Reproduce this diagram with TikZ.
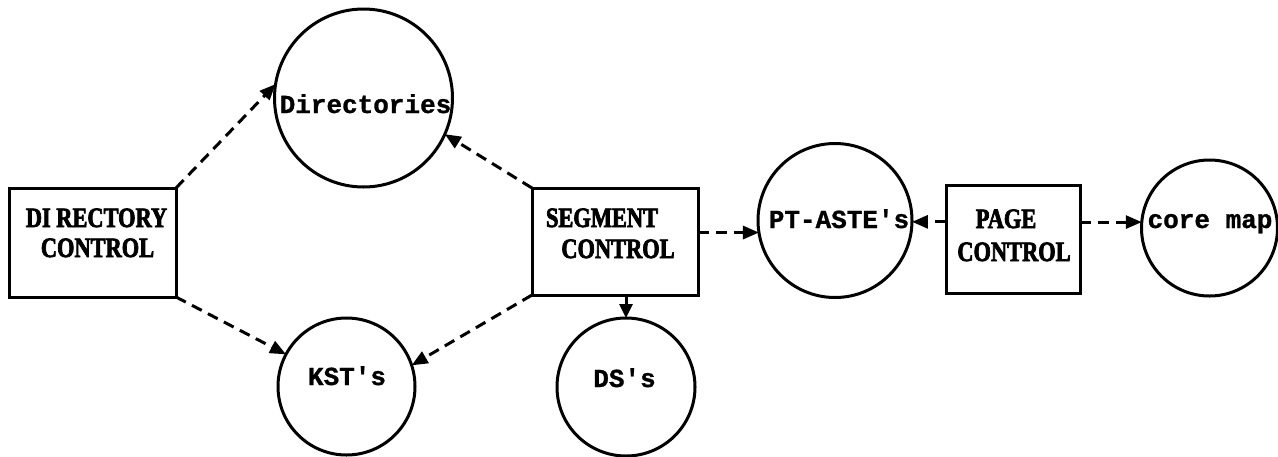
\documentclass[tikz,border=0pt]{standalone}
\usepackage{fontspec}
\usetikzlibrary{arrows.meta,calc}
\newfontfamily\boxfont{Liberation Serif Bold}[FakeStretch=0.8,FakeBold=2.5]
\newfontfamily\circfont{Liberation Mono Bold}[FakeBold=1]
\tikzset{
  ctlbox/.style={draw, line width=3pt, rectangle, inner sep=0pt, outer sep=0pt},
  store/.style={draw, line width=3pt, circle, inner sep=0pt, outer sep=0pt},
  boxtxt/.style={anchor=base, inner sep=0pt, font=\boxfont\fontsize{28}{30}\selectfont},
  circtxt/.style={anchor=base, inner sep=0pt, font=\circfont\fontsize{26}{28}\selectfont},
  flow/.style={line width=3pt, dash pattern=on 11pt off 7pt, -{Triangle[length=16pt,width=13pt]}},
  solidflow/.style={line width=3pt, -{Triangle[length=14pt,width=13pt]}}
}
\begin{document}
\begin{tikzpicture}[x=1pt,y=-1pt]
\useasboundingbox (0,0) rectangle (1278,456);
% boxes
\node[ctlbox, minimum width=167pt, minimum height=109pt] (dirctl) at (92.5,242.5) {};
\node[ctlbox, minimum width=166pt, minimum height=107pt] (segctl) at (615,241.5) {};
\node[ctlbox, minimum width=134pt, minimum height=108pt] (pagectl) at (1013,239) {};
\node[boxtxt] (dirctl1) at (96.5,227) {DI RECTORY};
\node[boxtxt] (dirctl2) at (97.5,257) {CONTROL};
\node[boxtxt] (segctl1) at (602,227) {SEGMENT};
\node[boxtxt] (segctl2) at (618,258) {CONTROL};
\node[boxtxt] (pagectl1) at (1006,228) {PAGE};
\node[boxtxt] (pagectl2) at (1014,261) {CONTROL};
% circles
\node[store, minimum size=178pt] (dirs) at (363.5,98) {};
\node[store, minimum size=137pt] (kst) at (346.5,386.5) {};
\node[store, minimum size=138pt] (ds) at (626,387) {};
\node[store, minimum size=154pt] (pt) at (835,220.5) {};
\node[store, minimum size=136pt] (core) at (1209.5,228) {};
\node[circtxt] (dirst) at (365.5,113) {Directories};
\node[circtxt] (kstt) at (347,385) {KST's};
\node[circtxt] (dst) at (624.5,387) {DS's};
\node[circtxt] (ptt) at (839,228) {PT-ASTE's};
\node[circtxt] (coret) at (1210,228) {core map};
% connectors
\draw[flow] (dirctl.north east) -- (dirs.171);
\draw[flow] (dirctl.south east) -- (kst.152);
\draw[flow] (segctl.north west) -- (dirs.336);
\draw[flow] (segctl.south west) -- (kst.18);
\draw[flow] (segctl.east |- pt.189) -- (pt.189);
\draw[solidflow] (ds.north |- segctl.south) -- (ds.north);
\draw[flow] (pagectl.west |- pt.359) -- (pt.359);
\draw[flow] (pagectl.east |- core.175) -- (core.175);
\end{tikzpicture}
\end{document}
